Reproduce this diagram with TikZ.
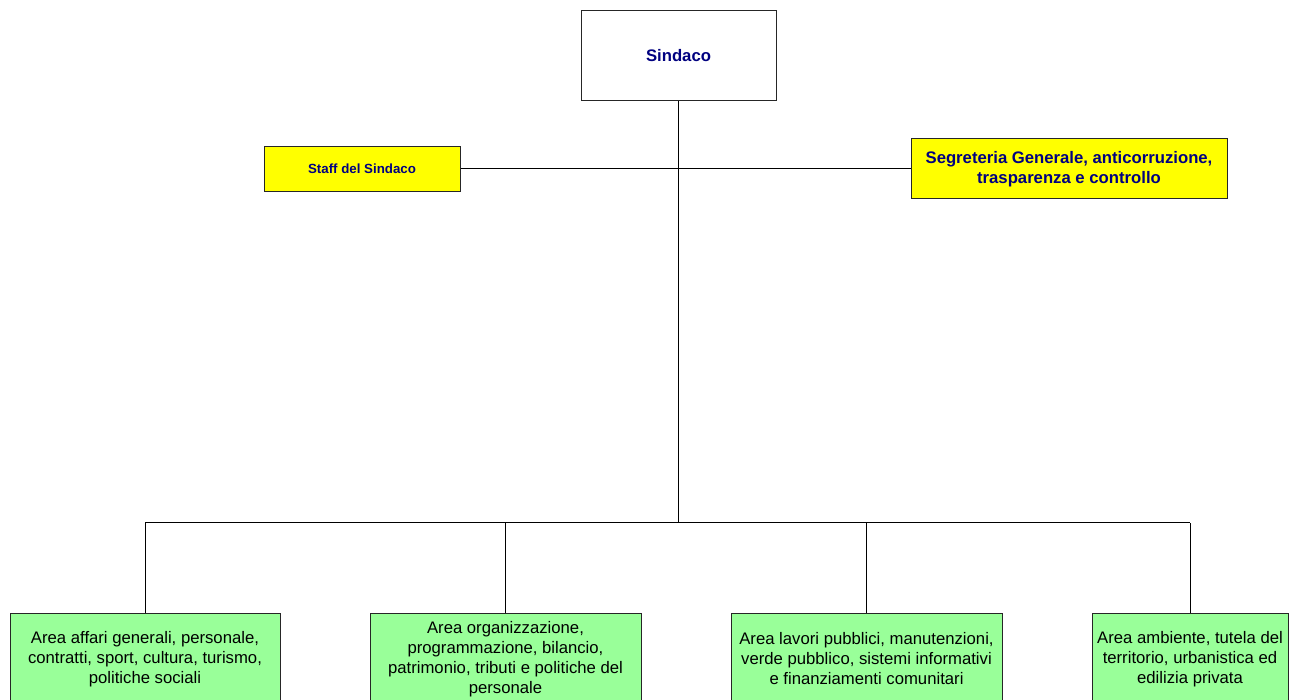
\documentclass[tikz,border=0pt]{standalone}
\usepackage{fontspec}
\setmainfont{Liberation Sans}
\begin{document}
\begin{tikzpicture}[x=1pt,y=-1pt,
  box/.style={draw=black!85, line width=1pt, inner sep=2pt, align=center},
  topbox/.style={box, fill=white, text=navyblue, font=\fontsize{16.7}{20}\selectfont\bfseries},
  staffbox/.style={box, fill=pureyellow, text=navyblue, font=\fontsize{13.3}{16}\selectfont\bfseries},
  segbox/.style={box, fill=pureyellow, text=navyblue, font=\fontsize{16.7}{20}\selectfont\bfseries},
  areabox/.style={box, fill=areagreen, text=black, font=\fontsize{16.7}{20}\selectfont},
  conn/.style={draw=black, line width=1pt}]
\definecolor{navyblue}{HTML}{000080}
\definecolor{areagreen}{HTML}{99FF99}
\definecolor{pureyellow}{HTML}{FFFF00}
\useasboundingbox (0,0) rectangle (1299,700);
\clip (0,0) rectangle (1299,700);
\fill[white] (0,0) rectangle (1299,700);

\node[topbox, minimum width=195pt, minimum height=90pt] (sindaco) at (678.5,55.8) {Sindaco};
\node[staffbox, minimum width=196pt, minimum height=45pt] (staff) at (362,168.8) {Staff del Sindaco};
\node[segbox, minimum width=316pt, minimum height=60pt] (seg) at (1069,168.8) {Segreteria Generale, anticorruzione,\\trasparenza e controllo};

\node[areabox, minimum width=270pt, minimum height=90pt] (a1) at (145,658.8) {Area affari generali, personale,\\contratti, sport, cultura, turismo,\\politiche sociali};
\node[areabox, minimum width=271pt, minimum height=90pt] (a2) at (505.5,658.8) {Area organizzazione,\\programmazione, bilancio,\\patrimonio, tributi e politiche del\\personale};
\node[areabox, minimum width=271pt, minimum height=90pt] (a3) at (866.5,658.8) {Area lavori pubblici, manutenzioni,\\verde pubblico, sistemi informativi\\e finanziamenti comunitari};
\node[areabox, minimum width=196pt, minimum height=90pt] (a4) at (1190,658.8) {Area ambiente, tutela del\\territorio, urbanistica ed\\edilizia privata};

\coordinate (bus) at (678.5,522.8);

\draw[conn] (sindaco.south) -- (bus);
\draw[conn] (staff.east) -- (seg.west);
\draw[conn] (a1.north |- bus) -- (a4.north |- bus);
\draw[conn] (a1.north) -- (a1.north |- bus);
\draw[conn] (a2.north) -- (a2.north |- bus);
\draw[conn] (a3.north) -- (a3.north |- bus);
\draw[conn] (a4.north) -- (a4.north |- bus);
\end{tikzpicture}
\end{document}
